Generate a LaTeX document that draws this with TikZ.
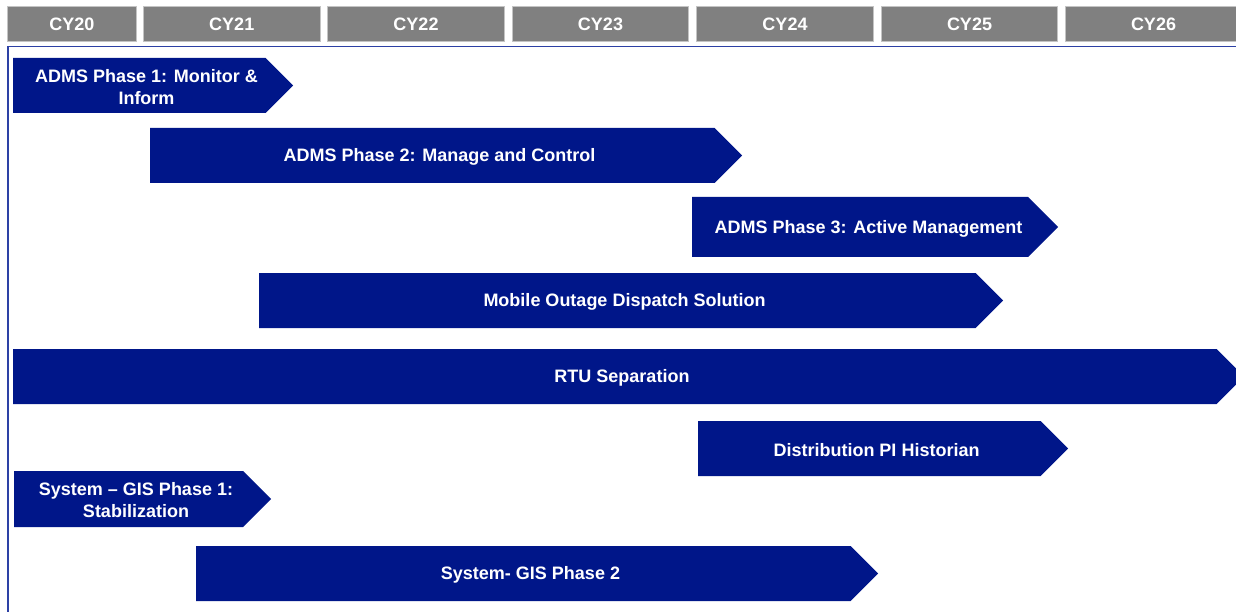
\documentclass[tikz,border=0pt]{standalone}
\usepackage{fontspec}
\setmainfont{Liberation Sans}
\definecolor{barblue}{RGB}{0,22,137}
\definecolor{framblue}{RGB}{45,65,165}
\definecolor{yeargray}{RGB}{128,128,128}
\definecolor{yearedge}{RGB}{196,196,196}
\tikzset{
  yearbox/.style={draw=yearedge, fill=yeargray, line width=1pt, inner sep=0pt,
    minimum height=35pt, text=white, font=\fontsize{18}{22}\selectfont\bfseries},
  bartext/.style={text=white, align=center, inner sep=0pt,
    font=\fontsize{18}{22}\selectfont\bfseries},
}
% #1 name, #2 left x, #3 tip x, #4 top y, #5 bottom y, #6 label
\newcommand\ganttbar[6]{%
  \fill[barblue] (#2,#4) -- ({#3-(#5-#4)/2},#4) -- (#3,{(#4+#5)/2})
    -- ({#3-(#5-#4)/2},#5) -- (#2,#5) -- cycle;
  \node[bartext] (#1) at ({(#2+#3-13)/2},{(#4+#5)/2+1.5}) {#6};
}
\begin{document}
\begin{tikzpicture}[x=1pt,y=-1pt]
\useasboundingbox (0,0) rectangle (1236,612);
% year header
\node[yearbox, minimum width=129pt] (cy20) at (72,24.5) {CY20};
\node[yearbox, minimum width=176.5pt] (cy21) at (231.75,24.5) {CY21};
\node[yearbox, minimum width=176.5pt] (cy22) at (416,24.5) {CY22};
\node[yearbox, minimum width=176.5pt] (cy23) at (600.5,24.5) {CY23};
\node[yearbox, minimum width=176.5pt] (cy24) at (785,24.5) {CY24};
\node[yearbox, minimum width=176.5pt] (cy25) at (969.5,24.5) {CY25};
\node[yearbox, minimum width=176.5pt] (cy26) at (1153.5,24.5) {CY26};
% frame
\coordinate (fbl) at (7.8,612);
\coordinate (ftl) at (7.8,46.5);
\coordinate (ftr) at (1236,46.5);
\draw[framblue, line width=1.5pt] (fbl) -- (ftl) -- (ftr);
% bars
\ganttbar{p1}{13}{293}{58}{113}{ADMS Phase 1: Monitor \&\\Inform}
\ganttbar{p2}{150}{742}{128}{183}{ADMS Phase 2: Manage and Control}
\ganttbar{p3}{692}{1058}{197}{257}{ADMS Phase 3: Active Management}
\ganttbar{mods}{259}{1003}{273}{328}{Mobile Outage Dispatch Solution}
\ganttbar{rtu}{13}{1244}{349}{404}{RTU Separation}
\ganttbar{pi}{698}{1068}{421}{476}{Distribution PI Historian}
\ganttbar{gis1}{14}{271}{471}{527}{System -- GIS Phase 1:\\Stabilization}
\ganttbar{gis2}{196}{878}{546}{601}{System- GIS Phase 2}
\end{tikzpicture}
\end{document}
